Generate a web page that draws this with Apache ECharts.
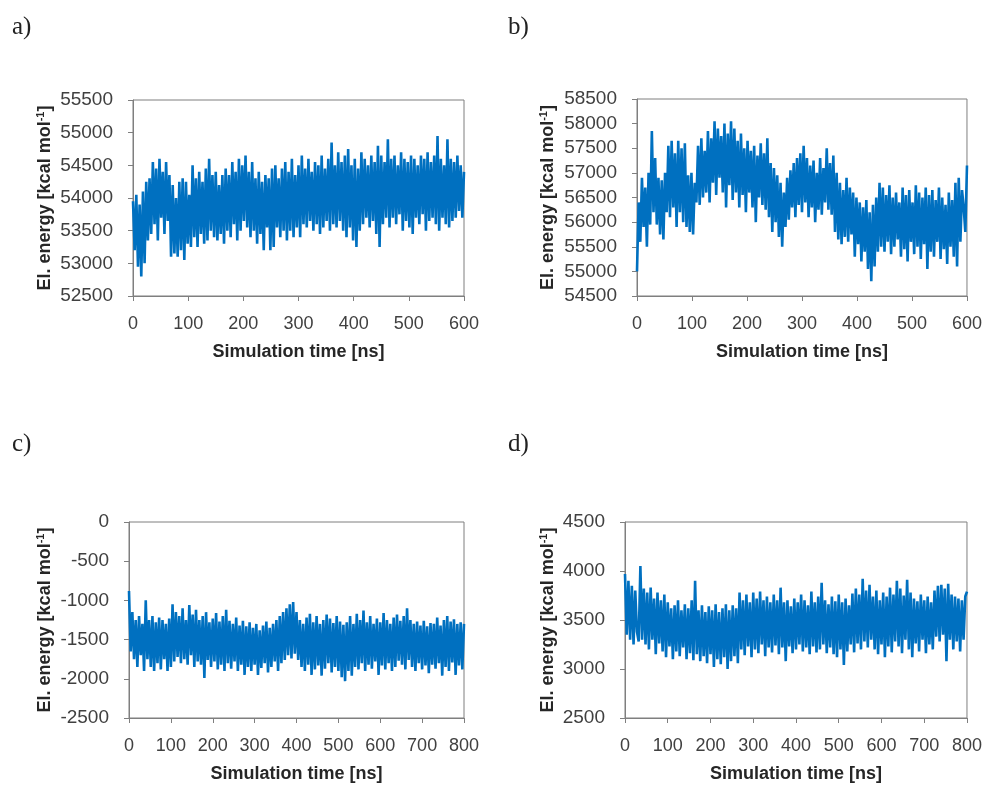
<!DOCTYPE html>
<html><head><meta charset="utf-8">
<script src="https://cdn.jsdelivr.net/npm/echarts@6/dist/echarts.min.js"></script>
<style>html,body{margin:0;padding:0;background:#fff}#c{width:985px;height:786px}</style>
</head><body><div id="c"></div>
<script>
// ---- data ----
const panelLabels = ['a)', 'b)', 'c)', 'd)'];
const xTitle = 'Simulation time [ns]';
const yTitle = 'El. energy [kcal mol';
const yTitleSup = '-1';

// sampling step of each trajectory in ns
const stepA = 3, stepB = 3, stepC = 4, stepD = 4;

const xTicksAB = [0, 100, 200, 300, 400, 500, 600];
const xTicksCD = [0, 100, 200, 300, 400, 500, 600, 700, 800];
const yTicksA = [52500, 53000, 53500, 54000, 54500, 55000, 55500];
const yTicksB = [54500, 55000, 55500, 56000, 56500, 57000, 57500, 58000, 58500];
const yTicksC = [-2500, -2000, -1500, -1000, -500, 0];
const yTicksD = [2500, 3000, 3500, 4000, 4500];

const energyA = [
53950,53200,54050,52950,53900,52800,54100,53000,54250,53350,
54300,53450,54550,53600,54450,53350,54600,53700,54400,53450,
54550,53650,54350,53100,54200,53150,54000,53100,54250,53200,
54300,53050,54250,53300,54050,53250,54500,53400,54300,53250,
54400,53450,54250,53300,54450,53350,54600,53500,54350,53400,
54400,53350,54200,53450,54350,53300,54450,53500,54350,53400,
54550,53600,54400,53350,54600,53500,54500,53650,54650,53550,
54400,53400,54550,53500,54300,53300,54400,53450,54250,53200,
54350,53550,54300,53200,54450,53250,54500,53550,54300,53400,
54450,53500,54550,53350,54400,53500,54600,53400,54350,53550,
54500,53400,54650,53600,54450,53550,54600,53650,54400,53500,
54550,53600,54500,53450,54650,53550,54450,53650,54600,53500,
54850,53600,54500,53550,54700,53650,54550,53500,54650,53400,
54750,53550,54500,53350,54600,53250,54450,53500,54700,53600,
54600,53700,54500,53550,54650,53650,54550,53450,54800,53250,
54650,53600,54550,53700,54900,53550,54600,53700,54650,53600,
54500,53750,54700,53500,54600,53650,54550,53550,54650,53450,
54600,53700,54500,53600,54650,53750,54600,53500,54700,53650,
54550,53700,54650,53600,54950,53500,54600,53700,54500,53600,
54900,53550,54600,53650,54550,53700,54650,53800,54500,53700,
54400];

const energyB = [
55000,56400,55600,56900,55900,56700,55500,57000,55950,57850,
56200,57300,55950,56900,55750,56850,55650,57000,56200,57550,
56100,57650,56300,57400,55900,57650,56200,57500,56000,57600,
55900,56950,55800,57000,55750,56800,56400,57550,56350,57700,
56500,57450,56600,57850,56400,57700,56800,58050,56550,57900,
56900,57750,56600,58000,56300,57800,56750,58050,56450,57900,
56600,57650,56300,57800,56550,57500,56200,57650,56600,57450,
56300,57550,56000,57350,56500,57600,56350,57400,56250,57700,
56100,57200,55800,57100,56000,56950,55700,56800,55500,56600,
55900,56900,56050,57050,56300,57200,56100,57300,56350,57400,
56200,57550,56400,57300,56100,57150,56300,57250,56000,57000,
56250,57300,56150,57100,56400,57500,56250,57200,56150,57350,
55800,57000,55650,56800,55550,56650,55700,56900,55600,56700,
55750,56600,55300,56500,55550,56400,55200,56300,55400,56450,
55050,56200,54800,56350,55100,56500,55400,56800,55500,56700,
55400,56550,55600,56750,55350,56500,55500,56600,55650,56400,
55300,56700,55450,56550,55200,56650,55600,56400,55350,56750,
55500,56600,55250,56500,55550,56700,55050,56550,55400,56650,
55300,56450,55600,56700,55250,56500,55450,56350,55150,56600,
55500,56450,55300,56800,55100,56900,55600,56650,56300,55800,
57150];

const energyC = [
-880,-1650,-1150,-1750,-1250,-1850,-1200,-1700,-1300,-1900,
-1000,-1750,-1250,-1850,-1200,-1900,-1280,-1800,-1220,-1880,
-1250,-1750,-1300,-1900,-1230,-1850,-1050,-1780,-1150,-1720,
-1200,-1800,-1100,-1750,-1250,-1820,-1060,-1700,-1180,-1850,
-1120,-1780,-1250,-1820,-1200,-1990,-1150,-1760,-1280,-1850,
-1230,-1780,-1160,-1880,-1270,-1820,-1200,-1900,-1120,-1800,
-1260,-1870,-1300,-1780,-1220,-1900,-1320,-1820,-1260,-1950,
-1330,-1850,-1280,-1900,-1350,-1820,-1300,-1950,-1380,-1860,
-1320,-1800,-1270,-1920,-1350,-1850,-1300,-1780,-1250,-1900,
-1200,-1800,-1150,-1760,-1100,-1700,-1050,-1740,-1020,-1680,
-1150,-1760,-1250,-1850,-1300,-1900,-1220,-1820,-1170,-1950,
-1280,-1880,-1200,-1830,-1300,-1960,-1250,-1870,-1180,-1800,
-1230,-1920,-1290,-1850,-1200,-1900,-1270,-1980,-1310,-2030,
-1280,-1900,-1200,-1960,-1300,-1850,-1170,-1880,-1250,-1800,
-1130,-1900,-1280,-1820,-1200,-1870,-1300,-1780,-1230,-1950,
-1280,-1830,-1160,-1880,-1250,-1800,-1300,-1900,-1220,-1850,
-1180,-1770,-1260,-1820,-1200,-1880,-1100,-1760,-1250,-1850,
-1300,-1900,-1270,-1800,-1320,-1880,-1260,-1830,-1330,-1930,
-1290,-1820,-1300,-1870,-1220,-1800,-1320,-1960,-1250,-1850,
-1200,-1900,-1270,-1790,-1240,-1950,-1300,-1830,-1280,-1880,
-1300];

const energyD = [
3970,3350,3900,3300,3850,3250,3800,3380,3280,4050,
3300,3820,3250,3780,3200,3830,3300,3720,3150,3780,
3260,3700,3180,3760,3120,3680,3230,3620,3100,3650,
3180,3700,3130,3600,3220,3660,3100,3620,3160,3700,
3090,3900,3150,3600,3080,3650,3130,3580,3060,3640,
3150,3600,3020,3660,3100,3580,3050,3620,3120,3660,
3000,3600,3080,3650,3130,3620,3060,3780,3200,3700,
3140,3760,3230,3680,3120,3780,3200,3720,3160,3790,
3250,3700,3130,3740,3220,3680,3170,3760,3240,3700,
3150,3830,3220,3680,3080,3700,3230,3640,3160,3720,
3200,3680,3250,3760,3180,3700,3220,3650,3150,3790,
3230,3680,3170,3740,3200,3880,3250,3700,3160,3660,
3220,3740,3150,3690,3120,3760,3200,3680,3040,3720,
3180,3650,3250,3770,3170,3820,3260,3760,3200,3920,
3280,3800,3220,3860,3300,3740,3200,3800,3150,3700,
3250,3780,3120,3740,3230,3830,3170,3760,3280,3900,
3230,3820,3160,3750,3300,3910,3200,3780,3120,3720,
3260,3690,3180,3760,3300,3700,3160,3740,3250,3680,
3200,3800,3330,3850,3280,3860,3350,3820,3080,3870,
3300,3760,3200,3740,3280,3720,3180,3700,3300,3740,
3790];

// ---- chart ----
const FONT = '"Liberation Sans", Arial, sans-serif';
const AXIS_COLOR = '#7f7f7f';
const LABEL_COLOR = '#404040';
const TITLE_COLOR = '#262626';
const LINE_COLOR = '#0070C0';

const grids = [
  {left: 133, top: 100, width: 331, height: 196},
  {left: 637, top: 99, width: 330, height: 197},
  {left: 129, top: 522, width: 335, height: 196},
  {left: 625, top: 522, width: 342, height: 196}
];
const yNameGaps = [78, 79, 74, 67];
const xTickSets = [xTicksAB, xTicksAB, xTicksCD, xTicksCD];
const yTickSets = [yTicksA, yTicksB, yTicksC, yTicksD];
const steps = [stepA, stepB, stepC, stepD];
const energies = [energyA, energyB, energyC, energyD];

const option = {
  animation: false,
  backgroundColor: '#fff',
  grid: grids.map(g => Object.assign({show: true, borderColor: AXIS_COLOR, borderWidth: 1, containLabel: false}, g)),
  xAxis: xTickSets.map((ticks, k) => ({
    type: 'value', gridIndex: k,
    min: ticks[0], max: ticks[ticks.length - 1], interval: ticks[1] - ticks[0],
    name: xTitle, nameLocation: 'middle', nameGap: 47,
    nameTextStyle: {fontFamily: FONT, fontSize: 18, fontWeight: 'bold', color: TITLE_COLOR},
    axisLine: {show: true, onZero: false, lineStyle: {color: AXIS_COLOR, width: 1}},
    axisTick: {show: true, inside: false, length: 5, lineStyle: {color: AXIS_COLOR}},
    axisLabel: {fontFamily: FONT, fontSize: 18, color: LABEL_COLOR, margin: 19, formatter: v => String(v)},
    splitLine: {show: false}
  })),
  yAxis: yTickSets.map((ticks, k) => ({
    type: 'value', gridIndex: k,
    min: ticks[0], max: ticks[ticks.length - 1], interval: ticks[1] - ticks[0],
    name: '{t|' + yTitle + '}{s|' + yTitleSup + '}{t|]}',
    nameLocation: 'middle', nameGap: yNameGaps[k],
    nameTextStyle: {
      rich: {
        t: {fontFamily: FONT, fontSize: 18, fontWeight: 'bold', color: TITLE_COLOR, lineHeight: 20},
        s: {fontFamily: FONT, fontSize: 11, fontWeight: 'bold', color: TITLE_COLOR, verticalAlign: 'top', lineHeight: 12}
      }
    },
    axisLine: {show: true, onZero: false, lineStyle: {color: AXIS_COLOR, width: 1}},
    axisTick: {show: true, inside: false, length: 5, lineStyle: {color: AXIS_COLOR}},
    axisLabel: {fontFamily: FONT, fontSize: 19, color: LABEL_COLOR, margin: 20, formatter: v => String(v)},
    splitLine: {show: false}
  })),
  series: energies.map((vals, k) => ({
    type: 'line', xAxisIndex: k, yAxisIndex: k,
    showSymbol: false, symbol: 'none', silent: true, sampling: null,
    lineStyle: {color: LINE_COLOR, width: 2.6, join: 'bevel'},
    data: vals.map((v, i) => [i * steps[k], v])
  })),
  graphic: [
    {type: 'text', left: 12, top: 15, style: {text: panelLabels[0], font: '25px "Liberation Serif", serif', fill: '#222'}},
    {type: 'text', left: 508, top: 15, style: {text: panelLabels[1], font: '25px "Liberation Serif", serif', fill: '#222'}},
    {type: 'text', left: 12, top: 432, style: {text: panelLabels[2], font: '25px "Liberation Serif", serif', fill: '#222'}},
    {type: 'text', left: 508, top: 432, style: {text: panelLabels[3], font: '25px "Liberation Serif", serif', fill: '#222'}}
  ]
};
const chart = echarts.init(document.getElementById('c'), null, {renderer: 'canvas'});
chart.setOption(option);
</script>
</body></html>
